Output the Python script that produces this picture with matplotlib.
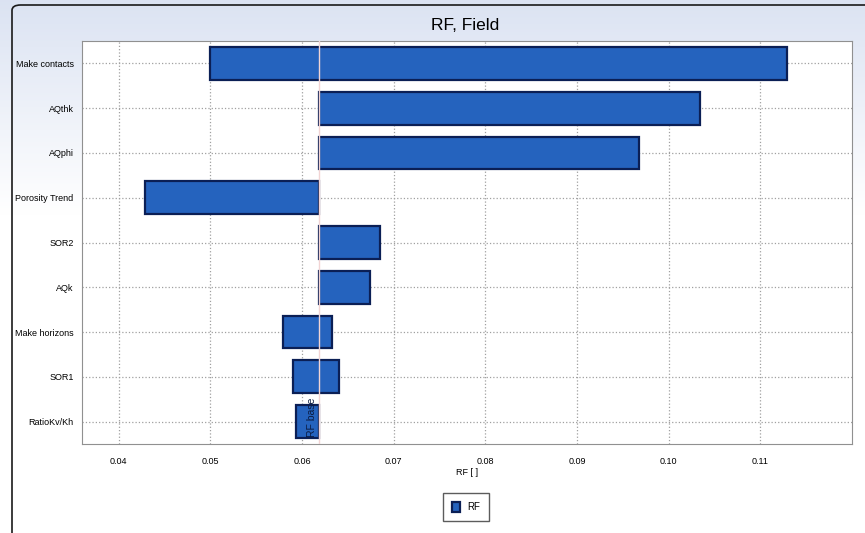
import numpy as np
import matplotlib.pyplot as plt
from matplotlib.patches import FancyBboxPatch

plt.rcParams['font.family'] = ['Liberation Sans', 'DejaVu Sans']

# tornado chart data
params = ['Make contacts', 'AQthk', 'AQphi', 'Porosity Trend', 'SOR2',
          'AQk', 'Make horizons', 'SOR1', 'RatioKv/Kh']
low = [0.0500, 0.0618, 0.0618, 0.0429, 0.0618, 0.0618, 0.0579, 0.0590, 0.0593]
high = [0.1129, 0.1034, 0.0968, 0.0618, 0.0685, 0.0674, 0.0633, 0.0640, 0.0618]
rf_base = 0.0618
xticks = [0.04, 0.05, 0.06, 0.07, 0.08, 0.09, 0.10, 0.11]

fig = plt.figure(figsize=(8.65, 5.33), dpi=100)

# background: pale blue gradient at the top of the panel
bg = fig.add_axes([0, 0, 1, 1], zorder=-10)
grad = np.linspace(0, 1, 200).reshape(-1, 1)
grad = np.clip(grad / 0.4, 0, 1)
c_top = np.array([0.86, 0.89, 0.95])
c_bot = np.array([1.0, 1.0, 1.0])
img = c_top[None, None, :] * (1 - grad[:, :, None]) + c_bot[None, None, :] * grad[:, :, None]
bg.imshow(img, aspect='auto', extent=[0, 1, 0, 1], origin='upper')
bg.set_xlim(0, 1)
bg.set_ylim(0, 1)
bg.axis('off')
frame = FancyBboxPatch((12 / 865, -0.1), 1.2, 1.0 - 5 / 533 + 0.1,
                       boxstyle='round,pad=0,rounding_size=0.01',
                       transform=bg.transAxes, fill=False,
                       edgecolor='#1a1a1a', linewidth=1.2, clip_on=True)
bg.add_patch(frame)

ax = fig.add_axes([82 / 865, 1 - 444 / 533, (852 - 82) / 865, (444 - 41) / 533])
ax.set_facecolor('white')

y = np.arange(len(params))
widths = [h - l for l, h in zip(low, high)]
ax.barh(y, widths, left=low, height=0.73, color='#2563be',
        edgecolor='#0b1f55', linewidth=1.6, zorder=3, label='RF')

ax.axvline(rf_base, color='#f2d4d4', linewidth=1.0, zorder=4)
ax.text(rf_base - 0.0002, 8.35, 'RF base', rotation=90, ha='right', va='bottom',
        fontsize=7.5, color='#0a1a40', zorder=5)

ax.set_xlim(0.036, 0.12)
ax.set_ylim(8.5, -0.5)
ax.set_yticks(y)
ax.set_yticklabels(params, fontsize=6.5)
ax.set_xticks(xticks)
ax.set_xticklabels(['%.2f' % v for v in xticks], fontsize=6.5)
ax.tick_params(axis='x', length=0, pad=9)
ax.tick_params(axis='y', length=0, pad=6)
ax.grid(True, linestyle=':', color='#a0a0a0', linewidth=0.9, zorder=0)
ax.set_axisbelow(True)
for s in ax.spines.values():
    s.set_color('#909090')
ax.set_xlabel('RF [ ]', fontsize=6.5, labelpad=2)

fig.text(465 / 865, 1 - 25 / 533, 'RF, Field', ha='center', va='center', fontsize=12.5)

leg = ax.legend(loc='center', bbox_to_anchor=(466 / 865, 1 - 507 / 533),
                bbox_transform=fig.transFigure, fontsize=7, frameon=True,
                fancybox=False, edgecolor='#333333', handlelength=0.8,
                handleheight=1.2, borderpad=0.9)

fig.savefig('out.png', dpi=100)
